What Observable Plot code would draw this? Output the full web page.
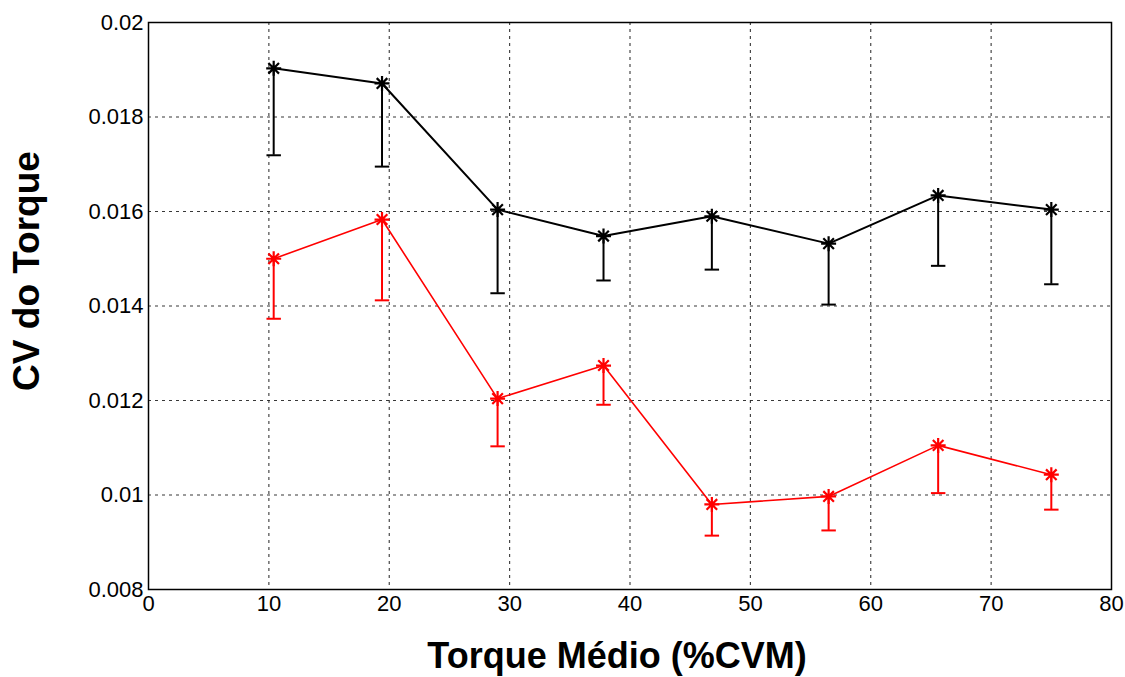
<!DOCTYPE html>
<html>
<head>
<meta charset="utf-8">
<script src="https://cdn.jsdelivr.net/npm/d3@7"></script>
<script src="https://cdn.jsdelivr.net/npm/@observablehq/plot@0.6"></script>
<style>
  html, body { margin: 0; padding: 0; background: #fff; }
  #chart svg { display: block; }
</style>
</head>
<body>
<div id="chart"></div>
<script>
const torque = [10.4, 19.4, 29.0, 37.8, 46.8, 56.5, 65.6, 75.0];
const cvBlack = [0.01903, 0.01871, 0.01604, 0.01548, 0.01590, 0.01532, 0.01634, 0.01604];
const cvBlackLow = [0.01719, 0.01695, 0.01427, 0.01454, 0.01477, 0.01403, 0.01485, 0.01446];
const cvRed = [0.01500, 0.01583, 0.01204, 0.01274, 0.00980, 0.00997, 0.01105, 0.01043];
const cvRedLow = [0.01373, 0.01412, 0.01103, 0.01191, 0.00914, 0.00925, 0.01004, 0.00969];
const xTicks = [0, 10, 20, 30, 40, 50, 60, 70, 80];
const yTicks = [0.008, 0.01, 0.012, 0.014, 0.016, 0.018, 0.02];
const xLabel = "Torque Médio (%CVM)";
const yLabel = "CV do Torque";

const black = torque.map((x, i) => ({x, y: cvBlack[i], lo: cvBlackLow[i]}));
const red = torque.map((x, i) => ({x, y: cvRed[i], lo: cvRedLow[i]}));
const capHalf = 0.6;

// MATLAB-style '*' marker: plus + cross (8 spokes)
const star8 = {
  draw(context, size) {
    const r = Math.sqrt(size / Math.PI);
    const d = r * Math.SQRT1_2;
    context.moveTo(-r, 0); context.lineTo(r, 0);
    context.moveTo(0, -r); context.lineTo(0, r);
    context.moveTo(-d, -d); context.lineTo(d, d);
    context.moveTo(-d, d); context.lineTo(d, -d);
  }
};

const seriesMarks = (data, color, lw) => [
  Plot.ruleX(data, {x: "x", y1: "y", y2: "lo", stroke: color, strokeWidth: 2}),
  Plot.link(data, {x1: d => d.x - capHalf, x2: d => d.x + capHalf, y1: "lo", y2: "lo", stroke: color, strokeWidth: 2}),
  Plot.line(data, {x: "x", y: "y", stroke: color, strokeWidth: lw}),
  Plot.dot(data, {x: "x", y: "y", symbol: star8, r: 7.5, stroke: color, strokeWidth: 2.2})
];

const chart = Plot.plot({
  width: 1125,
  height: 677,
  marginLeft: 148,
  marginRight: 14,
  marginTop: 22,
  marginBottom: 88,
  style: {fontFamily: "'Liberation Sans', Arial, Helvetica, sans-serif", fontSize: "21px", color: "#000", background: "#fff"},
  x: {domain: [0, 80], ticks: xTicks},
  y: {domain: [0.008, 0.02], ticks: yTicks},
  marks: [
    Plot.gridX(xTicks.slice(1, -1), {stroke: "#222", strokeOpacity: 0.9, strokeDasharray: "3,4", strokeWidth: 1.1}),
    Plot.gridY(yTicks.slice(1, -1), {stroke: "#222", strokeOpacity: 0.9, strokeDasharray: "3,4", strokeWidth: 1.1}),
    Plot.axisX(xTicks, {tickSize: 0, tickPadding: 6, label: null, fontSize: 22}),
    Plot.axisY(yTicks, {tickSize: 0, tickPadding: 5, label: null, fontSize: 22, tickFormat: d3.format("~g")}),
    Plot.frame({stroke: "#000", strokeWidth: 1.5}),
    ...seriesMarks(black, "#000", 2),
    ...seriesMarks(red, "#ff0000", 1.6),
    Plot.text([xLabel], {frameAnchor: "bottom", dx: -13, dy: 67, fontSize: 36, fontWeight: "bold", textAnchor: "middle", lineAnchor: "middle"}),
    Plot.text([yLabel], {frameAnchor: "left", dx: -121, dy: -35, rotate: -90, fontSize: 37, fontWeight: "bold", textAnchor: "middle", lineAnchor: "middle"})
  ]
});
document.getElementById("chart").appendChild(chart);
</script>
</body>
</html>
